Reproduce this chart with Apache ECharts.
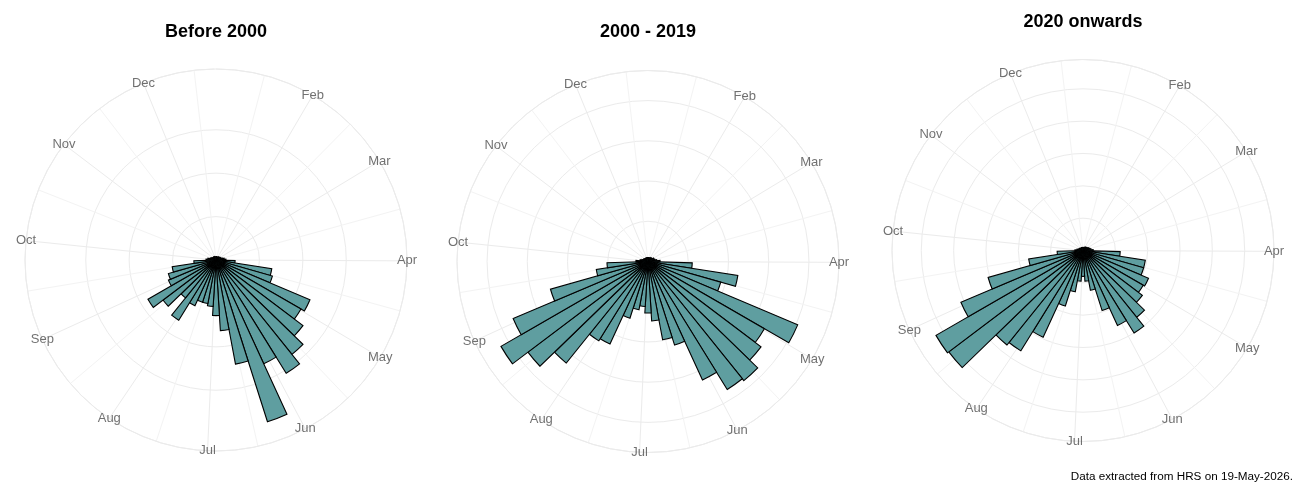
<!DOCTYPE html>
<html>
<head>
<meta charset="utf-8">
<title>Records by week of year</title>
<script src="https://cdn.jsdelivr.net/npm/echarts@6/dist/echarts.min.js"></script>
<style>
  html, body { margin: 0; padding: 0; background: #fff; }
  #chart { width: 1300px; height: 500px; }
</style>
</head>
<body>
<div id="chart"></div>
<script>
// 51 weekly bins round the year, the first one starting at the top
const weeks = Array.from({ length: 51 }, (_, i) => 'W' + (i + 1))

const before2000 = [0.8, 0.7, 0.6, 0.7, 0.8, 0.9, 0.8, 1.0, 1.1, 1.2, 1.5, 1.9,
  2.3, 4.4, 13.0, 13.5, 23.5, 22.6, 25.1, 27.9, 30.7, 26.3, 39.1, 24.4, 16.3, 12.8,
  10.7, 10.2, 10.2, 11.6, 16.3, 11.2, 15.3, 18.1, 11.9, 11.4, 10.2, 5.1, 2.3, 1.9,
  1.4, 1.2, 0.9, 0.9, 0.8, 0.7, 0.9, 0.8, 0.7, 0.6, 0.7]

const from2000to2019 = [5, 4, 5, 4, 5, 6, 5, 6, 8, 8, 9, 11,
  15, 55, 113, 94, 202, 167, 176, 190, 187, 162, 109, 99, 74, 64,
  56, 61, 74, 113, 116, 162, 187, 211, 182, 126, 65, 51, 15, 10,
  8, 6, 6, 5, 5, 5, 4, 5, 4, 5, 4]

const from2020 = [1.9, 1.9, 1.9, 1.9, 2.5, 2.5, 2.5, 3.1, 3.1, 3.8, 4.4, 5.0,
  6.3, 23, 39, 39, 44, 43, 46, 53, 60, 51, 39, 25, 19, 16,
  19, 26, 36, 59, 73, 75, 104, 105, 82, 61, 34, 16, 5, 3.8,
  3.1, 2.5, 2.5, 1.9, 1.9, 1.9, 1.9, 1.9, 1.9, 1.9, 1.9]

const panelTitles = ['Before 2000', '2000 - 2019', '2020 onwards']
const ringSteps = [10, 50, 20]

// month gridlines on a half-day scale (710 half days round the circle)
const halfDays = Array.from({ length: 710 }, (_, i) => String(i))
const monthNames = ['Feb', 'Mar', 'Apr', 'May', 'Jun', 'Jul', 'Aug', 'Sep', 'Oct', 'Nov', 'Dec']
const monthStarts = [60, 116, 178, 238, 300, 360, 422, 484, 544, 606, 666]
const monthMids = [29, 88, 147, 208, 269, 330, 391, 453, 514, 575, 636, 697]

const FONT = '"Liberation Sans", Arial, sans-serif'
const GRID = '#ebebeb'

const panels = [
  { title: panelTitles[0], data: before2000, step: ringSteps[0], center: [216, 260], titleTop: 23 },
  { title: panelTitles[1], data: from2000to2019, step: ringSteps[1], center: [648, 261.5], titleTop: 23 },
  { title: panelTitles[2], data: from2020, step: ringSteps[2], center: [1083, 250.5], titleTop: 13.5 }
]

const spokeSet = new Set(monthStarts.concat(monthMids))

// rings only where ggplot would put breaks (inside the data range), plus the outer one
function ringColors(step, top, rMax) {
  const colors = []
  for (let v = 0; v < rMax - 1e-9; v += step) colors.push(v <= top ? GRID : 'rgba(0,0,0,0)')
  colors.push(GRID)
  return colors
}

const polar = [], angleAxis = [], radiusAxis = [], series = []
panels.forEach((p, i) => {
  const top = Math.max(...p.data)
  const rMax = top * 1.125
  const a = 2 * i, b = 2 * i + 1

  polar.push({ center: p.center, radius: 191 })
  angleAxis.push({
    polarIndex: a, type: 'category', data: weeks, startAngle: 90, clockwise: true,
    axisLine: { show: false }, axisTick: { show: false }, axisLabel: { show: false }, splitLine: { show: false }
  })
  radiusAxis.push({
    polarIndex: a, type: 'value', min: 0, max: rMax, interval: p.step,
    axisLine: { show: false }, axisTick: { show: false }, axisLabel: { show: false },
    splitLine: { show: true, lineStyle: { color: ringColors(p.step, top, rMax), width: 1 } }
  })

  polar.push({ center: p.center, radius: 191 })
  angleAxis.push({
    polarIndex: b, type: 'category', data: halfDays, boundaryGap: false, startAngle: 90, clockwise: true,
    axisLine: { show: true, lineStyle: { color: GRID, width: 1 } },
    axisTick: { show: true, length: 0, interval: idx => spokeSet.has(idx), lineStyle: { color: 'rgba(0,0,0,0)' } },
    axisLabel: { show: false },
    splitLine: { show: true, lineStyle: { color: ['#f3f3f3', GRID], width: 1 } }
  })
  radiusAxis.push({
    polarIndex: b, type: 'value', min: 0, max: 1,
    axisLine: { show: false }, axisTick: { show: false }, axisLabel: { show: false }, splitLine: { show: false }
  })

  series.push({
    type: 'bar', coordinateSystem: 'polar', polarIndex: a,
    data: p.data, barCategoryGap: '0%', silent: true,
    itemStyle: { color: '#5f9ea0', borderColor: '#000', borderWidth: 1.1 }
  })
  series.push({
    type: 'scatter', coordinateSystem: 'polar', polarIndex: b, silent: true,
    symbolSize: 1, itemStyle: { color: 'rgba(0,0,0,0)' },
    data: monthNames.map((m, j) => ({ name: m, value: [1, monthStarts[j]] })),
    label: { show: true, position: 'inside', formatter: '{b}', color: '#4d4d4d', fontSize: 13, fontFamily: FONT }
  })
})

const chart = echarts.init(document.getElementById('chart'))
chart.setOption({
  animation: false,
  backgroundColor: '#fff',
  title: panels.map(p => ({
    text: p.title, left: p.center[0], top: p.titleTop, textAlign: 'center', padding: 0,
    textStyle: { fontSize: 18, fontWeight: 'bold', color: '#000', fontFamily: FONT }
  })),
  polar,
  angleAxis,
  radiusAxis,
  series,
  graphic: [{
    type: 'text', right: 7, top: 470.5,
    style: { text: 'Data extracted from HRS on 19-May-2026.', fill: '#000', font: '11.7px ' + FONT }
  }]
})
</script>
</body>
</html>
